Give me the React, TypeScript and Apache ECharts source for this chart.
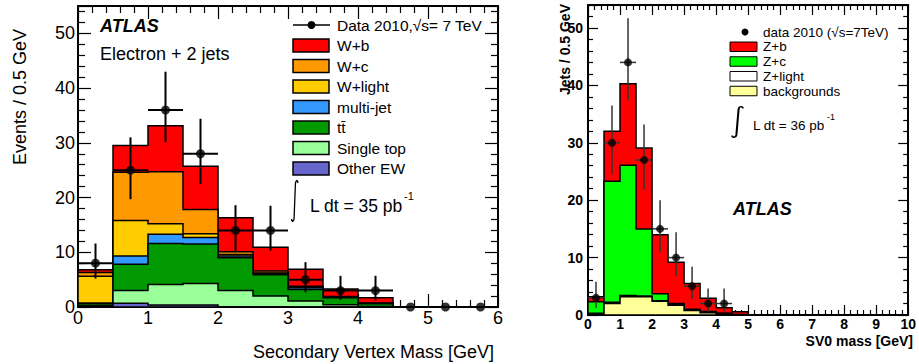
import React, { useEffect, useRef } from "react";
import * as echarts from "echarts";

const FONT = "'Liberation Sans', Arial, Helvetica, sans-serif";

// ---------- Left panel: Secondary Vertex Mass (Electron + 2 jets) ----------
const leftBinEdges = [0, 0.5, 1, 1.5, 2, 2.5, 3, 3.5, 4, 4.5, 5, 5.5, 6];
const leftOtherEW = [0.2, 0.7, 0.35, 0.35, 0.05, 0.05, 0, 0, 0, 0, 0, 0];
const leftSingleTop = [0.1, 2.3, 3.75, 3.95, 2.95, 1.95, 1.1, 0.4, 0.1, 0, 0, 0];
const leftTtbar = [0.4, 4.8, 7.5, 7.2, 6.0, 3.9, 2.1, 1.3, 0.5, 0, 0, 0];
const leftMultiJet = [0, 1.5, 1.7, 1.2, 0.3, 0.2, 0.3, 0.1, 0.05, 0, 0, 0];
const leftWlight = [4.9, 6.5, 1.9, 0.7, 0.3, 0.1, 0.1, 0.05, 0.05, 0, 0, 0];
const leftWc = [0.7, 8.8, 9.5, 4.4, 0.5, 0.4, 0.2, 0.05, 0.05, 0, 0, 0];
const leftWb = [0.5, 4.9, 8.4, 7.9, 6.2, 4.3, 3.1, 1.4, 0.95, 0, 0, 0];
const leftLayerNames = ["Other EW", "Single top", "tt\u0304", "multi-jet", "W+light", "W+c", "W+b"];
const leftLayerColors = ["#6666CC", "#99FF99", "#009900", "#3399FF", "#FFCC00", "#FF9900", "#FF0000"];

const leftDataX = [0.25, 0.75, 1.25, 1.75, 2.25, 2.75, 3.25, 3.75, 4.25, 4.75, 5.25, 5.75];
const leftData = [8, 25, 36, 28, 14, 14, 5, 3, 3, 0, 0, 0];
const leftErrUp = [3.6, 6.0, 7.0, 6.4, 4.6, 4.5, 3.2, 2.7, 2.7, 0, 0, 0];
const leftErrDown = [2.8, 5.3, 5.9, 5.5, 4.0, 3.7, 2.3, 1.7, 1.8, 0, 0, 0];

// ---------- Right panel: SV0 mass (Z + jets) ----------
const rightBinEdges = [0, 0.5, 1, 1.5, 2, 2.5, 3, 3.5, 4, 4.5, 5];
const rightBackgrounds = [0.1, 2.0, 3.2, 3.2, 2.4, 1.7, 0.8, 0.4, 0.2, 0.05];
const rightZlight = [0.2, 0.2, 0.2, 0.1, 0.1, 0.1, 0.1, 0.1, 0.05, 0];
const rightZc = [2.0, 21.1, 22.7, 11.7, 1.2, 0.2, 0.1, 0.1, 0.05, 0.05];
const rightZb = [0.9, 8.7, 14.2, 14.1, 10.3, 7.2, 4.5, 2.3, 0.95, 0.45];
const rightLayerNames = ["backgrounds", "Z+light", "Z+c", "Z+b"];
const rightLayerColors = ["#FFFF99", "#FFFFFF", "#00FF00", "#FF0000"];

const rightDataX = [0.25, 0.75, 1.25, 1.75, 2.25, 2.75, 3.25, 3.75, 4.25];
const rightData = [3, 30, 44, 27, 15, 10, 5, 2, 2];
const rightErrUp = [2.8, 6.5, 7.7, 6.2, 5.0, 4.4, 3.4, 2.6, 2.6];
const rightErrDown = [1.8, 5.5, 6.6, 5.2, 4.0, 3.2, 2.2, 1.4, 1.4];

// integral sign outline
const INTEGRAL_D = "M10,3 C9.5,0 6.5,0 6,4 L4,38 C3.5,42 0.5,42 0,39";
echarts.graphic.registerShape("integral", echarts.graphic.extendPath(INTEGRAL_D, {}));

function cumulative(layers: number[][]): number[][] {
  const out: number[][] = [];
  let acc = layers[0].map(() => 0);
  for (const l of layers) {
    acc = acc.map((a, i) => a + l[i]);
    out.push(acc);
  }
  return out;
}

function histSeries(xi: number, yi: number, edges: number[], layers: number[][], colors: string[]) {
  const cums = cumulative(layers);
  const order = cums.map((_, k) => cums.length - 1 - k);
  return {
    type: "custom",
    xAxisIndex: xi,
    yAxisIndex: yi,
    silent: true,
    z: 2,
    data: order.map((k) => [k, 0]),
    encode: { x: 0, y: 1 },
    renderItem: (params: any, api: any) => {
      const k = order[params.dataIndex];
      const cum = cums[k];
      const pts: number[][] = [api.coord([edges[0], 0])];
      for (let i = 0; i < cum.length; i++) {
        pts.push(api.coord([edges[i], cum[i]]));
        pts.push(api.coord([edges[i + 1], cum[i]]));
      }
      pts.push(api.coord([edges[cum.length], 0]));
      return {
        type: "polygon",
        shape: { points: pts },
        style: { fill: colors[k], stroke: "#000", lineWidth: 1.5 },
      };
    },
  };
}

function errorSeries(xi: number, yi: number, xs: number[], ys: number[], up: number[], dn: number[], half: number, color: string, lw: number) {
  return {
    type: "custom",
    xAxisIndex: xi,
    yAxisIndex: yi,
    silent: true,
    z: 5,
    data: xs.map((x, i) => [x, ys[i], up[i], dn[i]]),
    encode: { x: 0, y: 1 },
    renderItem: (params: any, api: any) => {
      const x = api.value(0), y = api.value(1), u = api.value(2), d = api.value(3);
      const t = api.coord([x, y + u]);
      const b = api.coord([x, y - d]);
      const l = api.coord([x - half, y]);
      const r = api.coord([x + half, y]);
      return {
        type: "group",
        children: [
          { type: "line", shape: { x1: t[0], y1: t[1], x2: b[0], y2: b[1] }, style: { stroke: color, lineWidth: lw } },
          { type: "line", shape: { x1: l[0], y1: l[1], x2: r[0], y2: r[1] }, style: { stroke: color, lineWidth: lw } },
        ],
      };
    },
  };
}

function axis(gridIndex: number, position: string, min: number, max: number, interval: number, label: any, tickLen: number, minorLen: number) {
  return {
    type: "value",
    gridIndex,
    position,
    min,
    max,
    interval,
    axisLine: { show: true, onZero: false, lineStyle: { color: "#000", width: 2 } },
    axisTick: { show: true, inside: true, length: tickLen, lineStyle: { color: "#000", width: 1.2 } },
    minorTick: { show: true, splitNumber: 5, length: minorLen, lineStyle: { color: "#000", width: 1.2 } },
    splitLine: { show: false },
    minorSplitLine: { show: false },
    axisLabel: label ? label : { show: false },
  };
}

const tickFmt = (v: number) => (v % 1 === 0 ? String(v) : "");
const yFmt = (v: number) => (v % 10 === 0 ? String(v) : "");

export default function App() {
  const ref = useRef<HTMLDivElement>(null);
  useEffect(() => {
    if (!ref.current) return;
    const chart = echarts.init(ref.current, undefined, { renderer: "svg" });

    const leftLabelX = { show: true, color: "#000", fontFamily: FONT, fontSize: 18, margin: 2, formatter: tickFmt };
    const leftLabelY = { show: true, color: "#000", fontFamily: FONT, fontSize: 18, margin: 3, formatter: yFmt };
    const rightLabelX = { show: true, color: "#000", fontFamily: FONT, fontWeight: "bold", fontSize: 14, margin: 2, formatter: tickFmt };
    const rightLabelY = { show: true, color: "#000", fontFamily: FONT, fontWeight: "bold", fontSize: 14, margin: 5, formatter: yFmt };

    const graphics: any[] = [];
    const txt = (text: string, x: number, y: number, size: number, extra: any = {}, el: any = {}) =>
      graphics.push({
        type: "text",
        x,
        y,
        ...el,
        style: { text, fill: "#000", fontFamily: FONT, fontSize: size, textVerticalAlign: "middle", ...extra },
      });

    // Left panel texts
    txt("Events / 0.5 GeV", 20, 97, 18, { textAlign: "center" }, { rotation: Math.PI / 2 });
    txt("Secondary Vertex Mass [GeV]", 494, 352, 18, { textAlign: "right" });
    txt("ATLAS", 100, 26, 18, { fontWeight: "bold", fontStyle: "italic" });
    txt("Electron + 2 jets", 100, 54, 18);

    // Left legend
    const lRow0 = 25, lStep = 20.5;
    graphics.push({ type: "line", shape: { x1: 293, y1: lRow0, x2: 330, y2: lRow0 }, style: { stroke: "#000", lineWidth: 1.5 } });
    graphics.push({ type: "circle", shape: { cx: 311.5, cy: lRow0, r: 4 }, style: { fill: "#000" } });
    txt("Data 2010,\u221As= 7 TeV", 337, lRow0, 15.5);
    for (let j = 0; j < leftLayerNames.length; j++) {
      const k = leftLayerNames.length - 1 - j;
      const y = lRow0 + lStep * (j + 1);
      graphics.push({ type: "rect", shape: { x: 293, y: y - 6.5, width: 36, height: 13 }, style: { fill: leftLayerColors[k], stroke: "#000", lineWidth: 1.5 } });
      txt(leftLayerNames[k], 337, y, 15.5);
    }
    graphics.push({ type: "integral", x: 291.5, y: 180, scaleX: 0.65, scaleY: 1, style: { fill: "none", stroke: "#000", lineWidth: 2, strokeNoScale: true } });
    txt("L dt = 35 pb", 310, 206, 17.5);
    txt("-1", 404, 196, 11);

    // Right panel texts
    txt("Jets / 0.5 GeV", 565, 4, 14, { textAlign: "right", fontWeight: "bold" }, { rotation: Math.PI / 2 });
    txt("SV0 mass [GeV]", 913, 341, 14, { textAlign: "right", fontWeight: "bold" });
    txt("ATLAS", 733, 209, 18, { fontWeight: "bold", fontStyle: "italic" });

    const rRow0 = 32, rStep = 14.75;
    graphics.push({ type: "circle", shape: { cx: 745, cy: rRow0, r: 3.5 }, style: { fill: "#000" } });
    txt("data 2010 (\u221As=7TeV)", 763, rRow0, 13.5);
    for (let j = 0; j < rightLayerNames.length; j++) {
      const k = rightLayerNames.length - 1 - j;
      const y = rRow0 + rStep * (j + 1);
      graphics.push({ type: "rect", shape: { x: 730, y: y - 4.75, width: 27, height: 9.5 }, style: { fill: rightLayerColors[k], stroke: "#000", lineWidth: 1 } });
      txt(rightLayerNames[k], 763, y, 13.5);
    }
    graphics.push({ type: "integral", x: 732, y: 106, scaleX: 1.1, scaleY: 0.76, style: { fill: "none", stroke: "#000", lineWidth: 1.7, strokeNoScale: true } });
    txt("L dt = 36 pb", 753, 125, 13.5);
    txt("-1", 827, 117, 9);

    const option: any = {
      animation: false,
      backgroundColor: "#fff",
      grid: [
        { left: 78, top: 6, width: 420, height: 301, containLabel: false },
        { left: 588, top: 5, width: 324, height: 310, containLabel: false },
      ],
      xAxis: [
        axis(0, "bottom", 0, 6, 1, leftLabelX, 13, 7),
        axis(0, "top", 0, 6, 1, null, 13, 7),
        axis(1, "bottom", 0, 10, 1, rightLabelX, 10, 5),
        axis(1, "top", 0, 10, 1, null, 10, 5),
      ],
      yAxis: [
        axis(0, "left", 0, 55, 10, leftLabelY, 13, 7),
        axis(0, "right", 0, 55, 10, null, 13, 7),
        axis(1, "left", 0, 54, 10, rightLabelY, 10, 5),
        axis(1, "right", 0, 54, 10, null, 10, 5),
      ],
      series: [
        histSeries(0, 0, leftBinEdges, [leftOtherEW, leftSingleTop, leftTtbar, leftMultiJet, leftWlight, leftWc, leftWb], leftLayerColors),
        errorSeries(0, 0, leftDataX, leftData, leftErrUp, leftErrDown, 0.25, "#000", 2),
        {
          type: "scatter", xAxisIndex: 0, yAxisIndex: 0, clip: false, silent: true, z: 6,
          symbol: "circle", symbolSize: 9, itemStyle: { color: "#000" },
          data: leftDataX.map((x, i) => [x, leftData[i]]),
        },
        histSeries(2, 2, rightBinEdges, [rightBackgrounds, rightZlight, rightZc, rightZb], rightLayerColors),
        errorSeries(2, 2, rightDataX, rightData, rightErrUp, rightErrDown, 0.25, "#333", 1.5),
        {
          type: "scatter", xAxisIndex: 2, yAxisIndex: 2, clip: false, silent: true, z: 6,
          symbol: "circle", symbolSize: 8, itemStyle: { color: "#000" },
          data: rightDataX.map((x, i) => [x, rightData[i]]),
        },
      ],
      graphic: { elements: graphics },
    };
    chart.setOption(option);
    return () => chart.dispose();
  }, []);
  return <div ref={ref} style={{ position: "fixed", left: 0, top: 0, width: 919, height: 364, background: "#fff" }} />;
}
